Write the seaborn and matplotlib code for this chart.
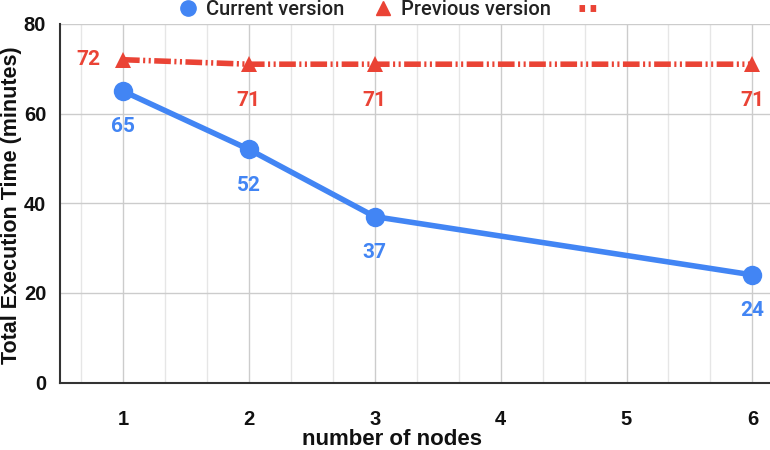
import matplotlib
matplotlib.use("Agg")
import matplotlib.pyplot as plt
import seaborn as sns
import pandas as pd
from matplotlib.lines import Line2D
from matplotlib.ticker import MultipleLocator

nodes = [1, 2, 3, 6]
current = [65, 52, 37, 24]
previous = [72, 71, 71, 71]
x_ticks = [1, 2, 3, 4, 5, 6]
y_ticks = [0, 20, 40, 60, 80]

BLUE = "#4285F4"
RED = "#EA4335"

sns.set_theme(style="white")
plt.rcParams['font.family'] = ['Liberation Sans', 'DejaVu Sans']
plt.rcParams['lines.scale_dashes'] = False
LABEL_FONT = ['Roboto', 'DejaVu Sans']

df_cur = pd.DataFrame({"nodes": nodes, "time": current})
df_prev = pd.DataFrame({"nodes": nodes, "time": previous})

fig = plt.figure(figsize=(7.7, 4.5), dpi=100)
ax = fig.add_axes([0.078, 0.150, 0.922, 0.797])

sns.lineplot(data=df_prev, x="nodes", y="time", ax=ax, color=RED, linewidth=4,
             marker="^", markersize=11, markeredgewidth=0, zorder=3)
ax.lines[-1].set_dashes([12, 2.5, 1.5, 2.5, 1.5, 2.5])
ax.lines[-1].set_dash_capstyle("butt")
sns.lineplot(data=df_cur, x="nodes", y="time", ax=ax, color=BLUE, linewidth=4,
             marker="o", markersize=14, markeredgewidth=0, zorder=4)

ax.set_xlim(0.5, 6.14)
ax.set_ylim(0, 80)
ax.set_xticks(x_ticks)
ax.set_yticks(y_ticks)
ax.xaxis.set_minor_locator(MultipleLocator(1/3))
ax.grid(True, which="major", color="#cccccc", linewidth=1)
ax.grid(True, which="minor", axis="x", color="#e6e6e6", linewidth=1)
ax.set_axisbelow(True)

for s in ["top", "right"]:
    ax.spines[s].set_visible(False)
for s in ["left", "bottom"]:
    ax.spines[s].set_color("#333333")
    ax.spines[s].set_linewidth(1.5)

ax.tick_params(axis="x", which="major", direction="inout", length=12, width=1.2,
               color="#222222", pad=14, labelsize=14.5)
ax.tick_params(axis="x", which="minor", length=0)
ax.tick_params(axis="y", length=0, pad=10, labelsize=14.5)
for lab in ax.get_xticklabels() + ax.get_yticklabels():
    lab.set_fontweight("bold")
    lab.set_color("#111111")

ax.set_xlabel("number of nodes", fontsize=16, fontweight="bold", color="#111111")
ax.xaxis.set_label_coords(0.468, -0.131)
ax.set_ylabel("Total Execution Time (minutes)", fontsize=15.5, fontweight="bold",
              color="#111111")
ax.yaxis.set_label_coords(-0.054, 0.495)

# data labels
for x, y in zip(nodes, current):
    ax.annotate(str(y), (x, y), xytext=(0, -19), textcoords="offset points",
                ha="center", va="top", color=BLUE, fontsize=15, fontweight="bold",
                family=LABEL_FONT)
for i, (x, y) in enumerate(zip(nodes, previous)):
    if i == 0:
        ax.annotate(str(y), (x, y), xytext=(-16, 0), textcoords="offset points",
                    ha="right", va="center", color=RED, fontsize=15, fontweight="bold",
                    family=LABEL_FONT)
    else:
        ax.annotate(str(y), (x, y), xytext=(0, -19), textcoords="offset points",
                    ha="center", va="top", color=RED, fontsize=15, fontweight="bold",
                    family=LABEL_FONT)

handles = [
    Line2D([], [], color=BLUE, marker="o", linestyle="none", markersize=11),
    Line2D([], [], color=RED, marker="^", linestyle="none", markersize=10),
    Line2D([], [], color=RED, linestyle=(0, (4, 4)), linewidth=5),
]
labels = ["Current version", "Previous version", ""]
leg = fig.legend(handles, labels, loc="upper center", bbox_to_anchor=(0.51, 1.04), ncol=3,
                 frameon=False, handlelength=1.0, handletextpad=0.4,
                 columnspacing=1.4, labelcolor="#222222",
                 prop={'family': LABEL_FONT, 'size': 14.5, 'weight': 'medium'})

fig.savefig("out.png", dpi=100)
